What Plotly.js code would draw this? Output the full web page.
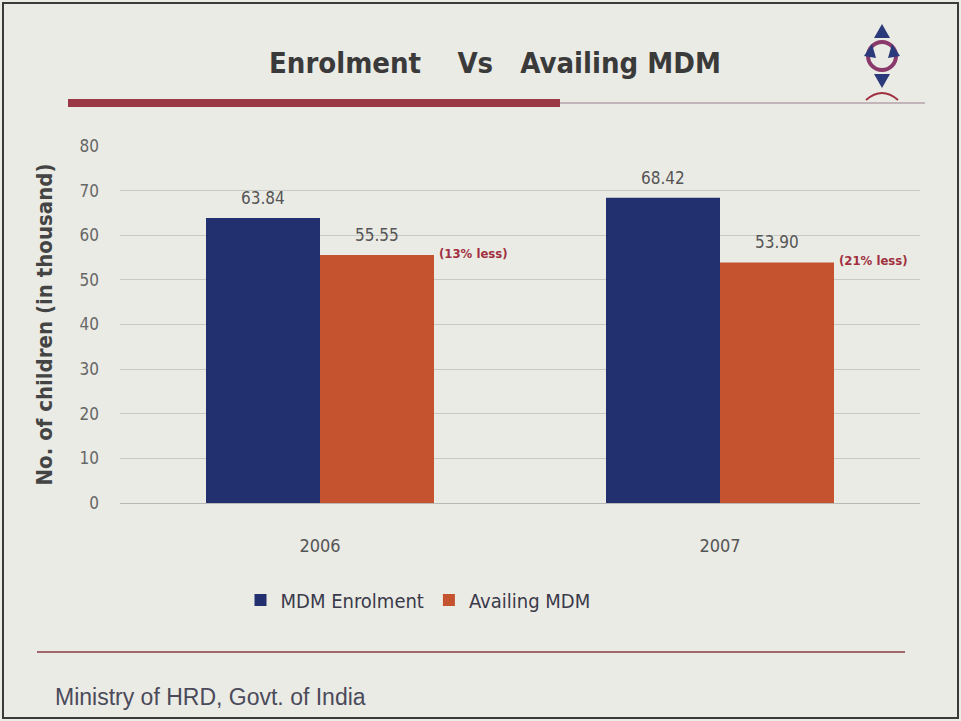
<!DOCTYPE html>
<html>
<head>
<meta charset="utf-8">
<script src="https://cdn.plot.ly/plotly-3.0.1.min.js"></script>
<style>
html,body{margin:0;padding:0;background:#ebebe5;}
#chart{width:961px;height:721px;}
</style>
</head>
<body>
<div id="chart"></div>
<script>
const years = ["2006", "2007"];
const enrolment = [63.84, 68.42];
const availing = [55.55, 53.90];
const enrolmentLabels = ["63.84", "68.42"];
const availingLabels = ["55.55", "53.90"];
const lessLabels = ["(13% less)", "(21% less)"];

const narrow = "'DejaVu Sans Condensed', 'Liberation Sans Narrow', 'Arial Narrow', sans-serif";

const traces = [
  {
    type: "bar", name: "MDM Enrolment", x: years, y: enrolment,
    marker: {color: "#22306f"}, hoverinfo: "skip"
  },
  {
    type: "bar", name: "Availing MDM", x: years, y: availing,
    marker: {color: "#c5532f"}, hoverinfo: "skip"
  }
];

const annotations = [];
years.forEach((yr, i) => {
  annotations.push({
    x: i, y: enrolment[i], xref: "x", yref: "y", text: enrolmentLabels[i],
    showarrow: false, xshift: -57, yshift: 20, yanchor: "middle",
    font: {family: narrow, size: 17, color: "#555555"}
  });
  annotations.push({
    x: i, y: availing[i], xref: "x", yref: "y", text: availingLabels[i],
    showarrow: false, xshift: 57, yshift: 20, yanchor: "middle",
    font: {family: narrow, size: 17, color: "#555555"}
  });
  annotations.push({
    x: i, y: availing[i], xref: "x", yref: "y",
    text: "<b>" + lessLabels[i] + "</b>", showarrow: false,
    xshift: 153, yshift: 2, xanchor: "center", yanchor: "middle",
    font: {family: narrow, size: 13, color: "#a0303f"}
  });
});

// paper coordinate helpers (plot area: left 120, width 800; top 146, height 357)
const px = v => (v - 120) / 800;
const py = v => (503 - v) / 357;

annotations.push({
  xref: "paper", yref: "paper", x: px(495), y: py(63),
  xanchor: "center", yanchor: "middle", showarrow: false,
  text: "<b>Enrolment    Vs   Availing MDM</b>",
  font: {family: narrow, size: 29, color: "#3a3a3a"}
});
annotations.push({
  xref: "paper", yref: "paper", x: px(53), y: py(697),
  xanchor: "left", yanchor: "middle", showarrow: false,
  text: "Ministry of HRD, Govt. of India",
  font: {family: "'Liberation Sans', Arial, sans-serif", size: 23, color: "#4a4a5a"}
});

const shapes = [
  {type: "rect", xref: "paper", yref: "paper", x0: px(3), x1: px(958), y0: py(718), y1: py(3),
   line: {color: "#3a3a3a", width: 2}, fillcolor: "rgba(0,0,0,0)", layer: "below"},
  {type: "rect", xref: "paper", yref: "paper", x0: px(68), x1: px(560), y0: py(107), y1: py(99),
   line: {width: 0}, fillcolor: "#9a3846"},
  {type: "line", xref: "paper", yref: "paper", x0: px(560), x1: px(925), y0: py(103), y1: py(103),
   line: {color: "#9a8090", width: 1}},
  {type: "line", xref: "paper", yref: "paper", x0: px(37), x1: px(905), y0: py(652), y1: py(652),
   line: {color: "#8a3a44", width: 1.5}},
  // logo approximation
  {type: "circle", xref: "paper", yref: "paper", x0: px(868), x1: px(896), y0: py(70), y1: py(42),
   line: {color: "#8a3a6a", width: 4}, fillcolor: "rgba(0,0,0,0)"},
  {type: "path", xref: "paper", yref: "paper",
   path: `M ${px(882)} ${py(24)} L ${px(874)} ${py(38)} L ${px(890)} ${py(38)} Z`,
   fillcolor: "#2a3a7a", line: {width: 0}},
  {type: "path", xref: "paper", yref: "paper",
   path: `M ${px(882)} ${py(88)} L ${px(874)} ${py(74)} L ${px(890)} ${py(74)} Z`,
   fillcolor: "#2a3a7a", line: {width: 0}},
  {type: "path", xref: "paper", yref: "paper",
   path: `M ${px(864)} ${py(56)} L ${px(872)} ${py(44)} L ${px(876)} ${py(58)} Z`,
   fillcolor: "#2a3a7a", line: {width: 0}},
  {type: "path", xref: "paper", yref: "paper",
   path: `M ${px(900)} ${py(56)} L ${px(892)} ${py(44)} L ${px(888)} ${py(58)} Z`,
   fillcolor: "#2a3a7a", line: {width: 0}},
  {type: "path", xref: "paper", yref: "paper",
   path: `M ${px(866)} ${py(100)} Q ${px(882)} ${py(86)} ${px(898)} ${py(100)}`,
   line: {color: "#a0303f", width: 2}}
];

const layout = {
  width: 961, height: 721,
  margin: {l: 120, r: 41, t: 146, b: 218, pad: 0},
  paper_bgcolor: "#ebebe5",
  plot_bgcolor: "#ebebe5",
  barmode: "group",
  bargap: 0.43,
  bargroupgap: 0,
  showlegend: true,
  legend: {
    orientation: "h", x: px(418), y: py(600), xanchor: "center", yanchor: "middle",
    font: {family: narrow, size: 20, color: "#3a3a4a"},
    bgcolor: "rgba(0,0,0,0)"
  },
  xaxis: {
    type: "category",
    tickfont: {family: narrow, size: 18, color: "#555555"},
    showgrid: false, zeroline: false, showline: false, ticks: "",
    ticklabelstandoff: 30
  },
  yaxis: {
    range: [0, 80], dtick: 10,
    tickfont: {family: narrow, size: 17, color: "#666666"},
    gridcolor: "#c8c8c4", gridwidth: 1,
    zeroline: true, zerolinecolor: "#b8b8b4",
    showline: false, ticks: "", ticklabelstandoff: 20,
    title: {text: "<b>No. of children (in thousand)</b>", standoff: 20,
            font: {family: narrow, size: 22, color: "#444444"}}
  },
  annotations: annotations,
  shapes: shapes
};

Plotly.newPlot("chart", traces, layout, {displayModeBar: false, staticPlot: true});
</script>
</body>
</html>
